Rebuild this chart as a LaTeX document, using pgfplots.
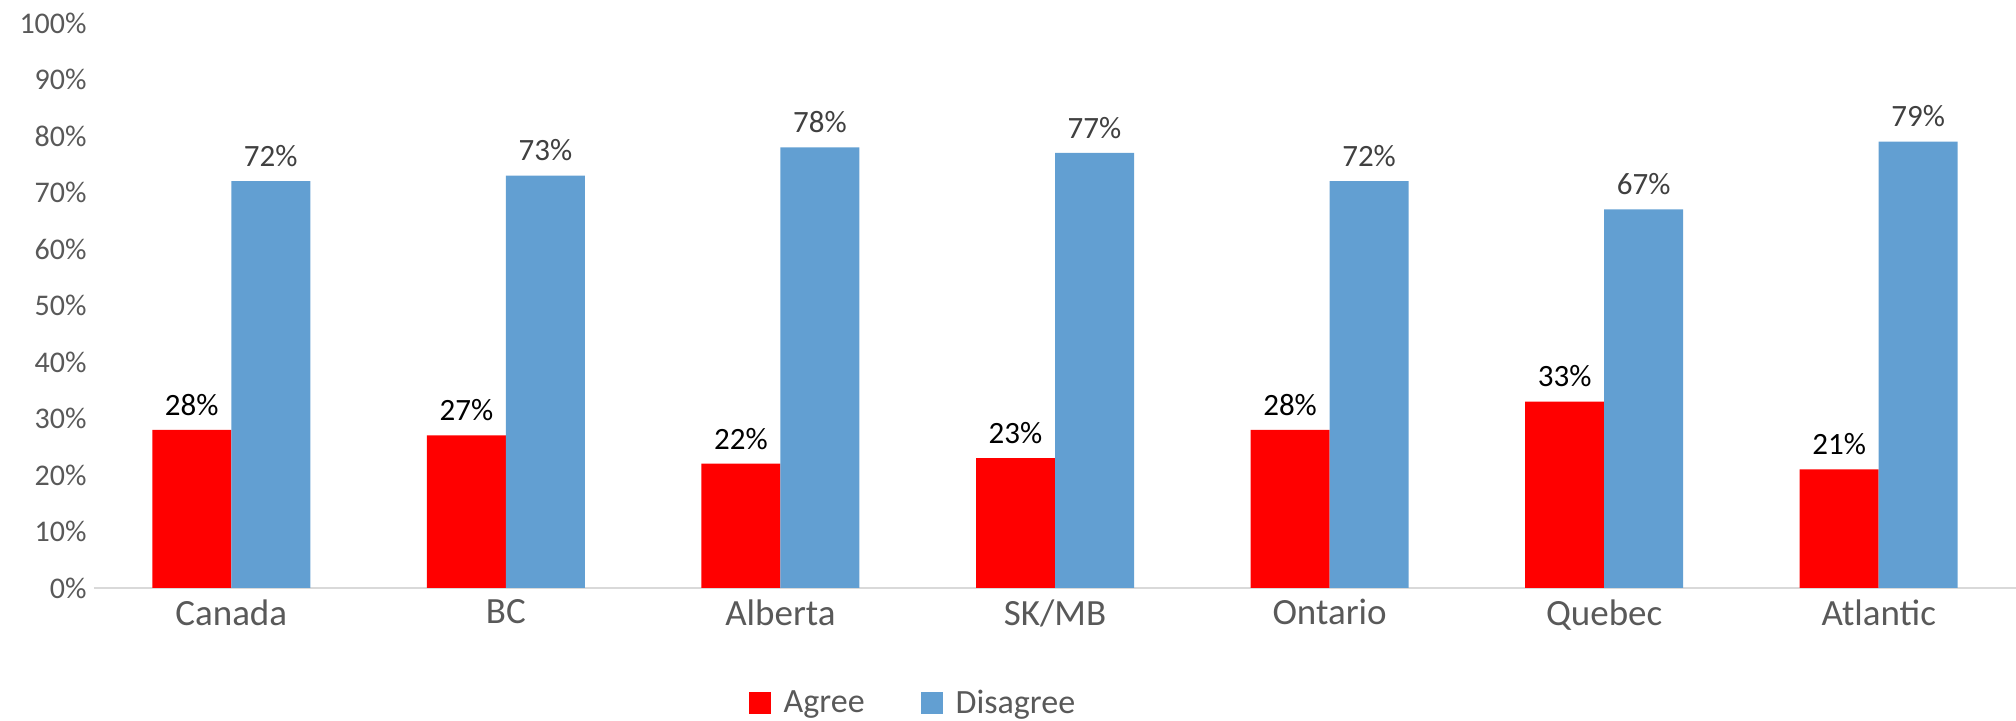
\documentclass[border=0pt]{standalone}
\usepackage{pgfplots}
\pgfplotsset{compat=1.18}
\usepackage{fontspec}
\setmainfont{Carlito}
\definecolor{agree}{HTML}{FF0000}
\definecolor{disagree}{HTML}{629FD2}
\definecolor{ticktxt}{HTML}{595959}
\definecolor{dlab}{HTML}{404040}
\definecolor{axl}{HTML}{D9D9D9}
\begin{document}
\begin{tikzpicture}
\begin{axis}[
  name=ax,
  at={(0,0)}, anchor=south west,
  scale only axis,
  width=961pt, height=282.5pt,
  xmin=-0.5, xmax=6.5, ymin=0, ymax=100,
  enlargelimits=false,
  clip=false,
  ybar=0pt, bar width=39.5pt,
  axis lines*=left,
  y axis line style={draw=none},
  x axis line style={draw=axl, line width=1pt},
  major tick length=0pt,
  xtick={0,1,2,3,4,5,6},
  xticklabels={Canada,BC,Alberta,SK/MB,Ontario,Quebec,Atlantic},
  xticklabel style={font=\fontsize{18.5}{22}\selectfont, text=ticktxt, inner sep=0pt, yshift=-5.5pt},
  ytick={0,10,...,100},
  yticklabel={\pgfmathprintnumber{\tick}\%},
  yticklabel style={font=\fontsize{15}{18}\selectfont, text=ticktxt, inner sep=0pt, xshift=-3.5pt},
  /pgf/number format/assume math mode=true,
  nodes near coords={\pgfmathprintnumber{\pgfplotspointmeta}\%},
  nodes near coords style={font=\fontsize{15.5}{18}\selectfont, inner sep=0pt, yshift=7pt, anchor=south},
  legend columns=2,
  legend style={at={(0.4266,-0.2035)}, anchor=center, draw=none, fill=none,
    font=\fontsize{17}{20}\selectfont, text=ticktxt,
    /tikz/every odd column/.append style={column sep=4.5pt},
    /tikz/every even column/.append style={column sep=26pt}},
  legend image code/.code={\fill[#1] (0pt,-5.5pt) rectangle (11pt,5.5pt);},
]
\addplot[fill=agree, draw=none, nodes near coords style={text=black}] coordinates {(0,28) (1,27) (2,22) (3,23) (4,28) (5,33) (6,21)};
\addplot[fill=disagree, draw=none, nodes near coords style={text=dlab}] coordinates {(0,72) (1,73) (2,78) (3,77) (4,72) (5,67) (6,79)};
\legend{Agree,Disagree}
\end{axis}
\pgfresetboundingbox
\path[use as bounding box] ([xshift=-47pt,yshift=-66.5pt]ax.south west) rectangle ([yshift=11.5pt]ax.north east);
\end{tikzpicture}
\end{document}
